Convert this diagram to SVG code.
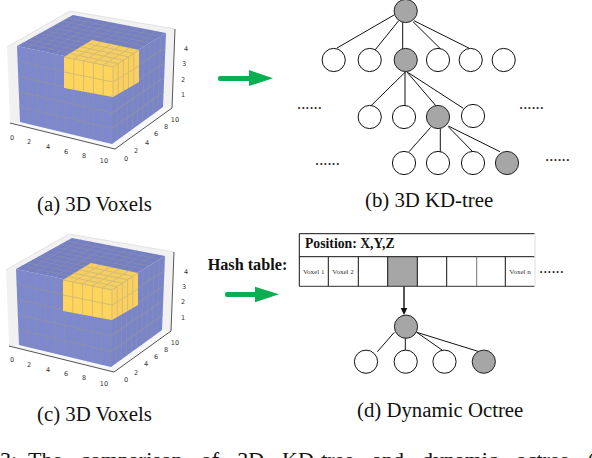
<svg xmlns="http://www.w3.org/2000/svg" xmlns:xlink="http://www.w3.org/1999/xlink" width="592" height="458" viewBox="0 0 592 458">
<style>
text{font-family:"Liberation Serif","Times New Roman",serif;fill:#111}
.cap{font-size:20.8px}
.tick{font-family:"DejaVu Sans",sans-serif;font-size:6.5px;text-anchor:middle;fill:#333}
.dots{font-size:16.5px;fill:#222}
.b{font-weight:bold}
.vx{font-size:7px;text-anchor:middle;fill:#333}
.w{fill:#fff;stroke:#111;stroke-width:1}
.g{fill:#a6a6a6;stroke:#222;stroke-width:1}
.e{stroke:#111;stroke-width:1;fill:none}
.bl{stroke:#8f90a8;stroke-width:1;fill:none;opacity:.6}
.hl{stroke:#8f90a8;stroke-width:1.1;fill:none;opacity:.85}
.yl{stroke:#d6bb72;stroke-width:1;fill:none}
.arw{fill:#0bae50}
.cell{stroke:#111;stroke-width:1;fill:none}
</style>
<defs>
<filter id="soft" x="-5%" y="-5%" width="110%" height="110%"><feGaussianBlur stdDeviation="0.45"/></filter>
<g id="voxels" filter="url(#soft)">
<polygon points="10,123 7,47 70,11 175,29 172,108 115,150" fill="#f1f1f1"/>
<polygon points="10,123 20,122 112,144 163,107 172,108 115,150" fill="#f8f8f8"/>
<path d="M7,47 L70,11 L175,29" fill="none" stroke="#e2e2e2" stroke-width="1"/>
<path d="M10,123 L115,149 L172,108 L175,29" fill="none" stroke="#555" stroke-width="1"/>
<polygon points="17,46 73,15 166,33 112,66" fill="#747fc4"/>
<polygon points="17,46 112,66 112,144 20,122" fill="#7d88cd"/>
<polygon points="112,66 166,33 163,107 112,144" fill="#7a85c9"/>
<path class="bl" d="M26.5,48L29.2,124.2M36,50L38.4,126.4M45.5,52L47.6,128.6M55,54L56.8,130.8M64.5,56L66,133M74,58L75.2,135.2M83.5,60L84.4,137.4M93,62L93.6,139.6M102.5,64L102.8,141.8M112,66L112,144"/>
<path class="bl" d="M117.4,62.7L117.1,140.3M122.8,59.4L122.2,136.6M128.2,56.1L127.3,132.9M133.6,52.8L132.4,129.2M139,49.5L137.5,125.5M144.4,46.2L142.6,121.8M149.8,42.9L147.7,118.1M155.2,39.6L152.8,114.4M160.6,36.3L157.9,110.7"/>
<path class="hl" d="M17.6,61.2L112,81.6L165.4,47.8M18.2,76.4L112,97.2L164.8,62.6M18.8,91.6L112,112.8L164.2,77.4M19.4,106.8L112,128.4L163.6,92.2"/>
<path class="bl" d="M22.6,42.9L117.4,62.7M28.2,39.8L122.8,59.4M33.8,36.7L128.2,56.1M39.4,33.6L133.6,52.8M45,30.5L139,49.5M50.6,27.4L144.4,46.2M56.2,24.3L149.8,42.9M61.8,21.2L155.2,39.6M67.4,18.1L160.6,36.3"/>
<path class="bl" d="M26.5,48L82.3,16.8M36,50L91.6,18.6M45.5,52L100.9,20.4M55,54L110.2,22.2M64.5,56L119.5,24M74,58L128.8,25.8M83.5,60L138.1,27.6M93,62L147.4,29.4M102.5,64L156.7,31.2"/>
<polygon points="64,57 92,40 139,50 113,67" fill="#f6cf63"/>
<polygon points="64,57 113,67 113,97 64,88" fill="#fdd45c"/>
<polygon points="113,67 139,50 139,82 113,97" fill="#f9d05e"/>
<path class="yl" d="M69.6,53.6L118.2,63.6M75.2,50.2L123.4,60.2M80.8,46.8L128.6,56.8M86.4,43.4L133.8,53.4M73.8,59L101.4,42M83.6,61L110.8,44M93.4,63L120.2,46M103.2,65L129.6,48M64,57L113,67L139,50"/>
<path class="yl" d="M73.8,59V89.8M83.6,61V91.6M93.4,63V93.4M103.2,65V95.2M113,67V97M118.2,63.6V94M123.4,60.2V91M128.6,56.8V88M133.8,53.4V85M64,72L113,82L139,66"/>
</g>
</defs>

<g id="voxels-a"><use href="#voxels" xlink:href="#voxels"/>
<text class="tick" x="12" y="140">0</text><text class="tick" x="29" y="144">2</text><text class="tick" x="48" y="149">4</text><text class="tick" x="66" y="154">6</text><text class="tick" x="84" y="158">8</text><text class="tick" x="104" y="163">10</text>
<text class="tick" x="126" y="161">0</text><text class="tick" x="136" y="153">2</text><text class="tick" x="147" y="145">4</text><text class="tick" x="156" y="136">6</text><text class="tick" x="166" y="129">8</text><text class="tick" x="175" y="122">10</text>
<text class="tick" x="186" y="51">4</text><text class="tick" x="184" y="66">3</text><text class="tick" x="183" y="82">2</text><text class="tick" x="183" y="97">1</text>
<text class="cap" x="37" y="211">(a) 3D Voxels</text></g>

<g id="voxels-c"><use href="#voxels" xlink:href="#voxels" transform="translate(-1,223)"/>
<text class="tick" x="12" y="362">0</text><text class="tick" x="29" y="367">2</text><text class="tick" x="48" y="372">4</text><text class="tick" x="66" y="376">6</text><text class="tick" x="84" y="380">8</text><text class="tick" x="104" y="386">10</text>
<text class="tick" x="126" y="382">0</text><text class="tick" x="136" y="375">2</text><text class="tick" x="146" y="366">4</text><text class="tick" x="156" y="359">6</text><text class="tick" x="166" y="352">8</text><text class="tick" x="175" y="345">10</text>
<text class="tick" x="186" y="274">4</text><text class="tick" x="184" y="289">3</text><text class="tick" x="183" y="304">2</text><text class="tick" x="183" y="320">1</text>
<text class="cap" x="37" y="421">(c) 3D Voxels</text></g>

<g id="connectors">
<g id="arrow-top"><rect class="arw" x="218" y="76" width="33" height="5" rx="2"/><polygon class="arw" points="249,70 273,78.3 249,86"/></g>
<g id="arrow-bottom"><rect class="arw" x="225" y="292" width="32" height="5" rx="2"/><polygon class="arw" points="255,286.7 279,294.3 255,302.3"/></g>
<path class="e" d="M394,15L337,48M398.7,20.7L375,50M402.7,21.7V49M413,21.7L440.7,49M414,20.7L469.3,48.3"/>
<path class="e" d="M405.7,71.7L370.7,106M405,71.7V106M406.7,71.7L436.7,106.7M408.3,72.7L463.3,108.3"/>
<path class="e" d="M430.7,127.3L409,151.7M440.3,128.3V152.3M448.3,126.7L473.3,152.3M448.3,126L500,151.7"/>
<path class="e" d="M394.3,332.3L377.4,351.7M405.3,338V350.5M416.7,332.3L442,350M416.7,332.3L479.2,351.7"/>
<path d="M404,286V309" stroke="#555" stroke-width="2" fill="none"/><polygon points="400.7,308 407.3,308 404,315" fill="#111"/>
</g>

<g id="node-root"><circle class="g" cx="405.7" cy="11" r="11.6"/></g>
<g id="level-2">
<circle class="w" cx="333.7" cy="60" r="11.6"/><circle class="w" cx="369.7" cy="60" r="11.6"/><circle class="g" cx="405.7" cy="60" r="11.6"/><circle class="w" cx="438" cy="60" r="11.6"/><circle class="w" cx="470.7" cy="60" r="11.6"/><circle class="w" cx="503.7" cy="60" r="11.6"/>
</g>
<g id="level-3">
<circle class="w" cx="369.7" cy="117" r="11.6"/><circle class="w" cx="404" cy="117" r="11.6"/><circle class="g" cx="438" cy="117" r="11.6"/><circle class="w" cx="473" cy="116" r="11.6"/>
</g>
<g id="level-4">
<circle class="w" cx="404" cy="163" r="11.6"/><circle class="w" cx="438" cy="163" r="11.6"/><circle class="w" cx="473" cy="163" r="11.6"/><circle class="g" cx="507" cy="163" r="11.6"/>
</g>
<g id="tree-labels">
<text class="dots" x="297" y="109">......</text><text class="dots" x="519" y="109">......</text><text class="dots" x="315" y="165">......</text><text class="dots" x="545" y="161">......</text>
<text class="cap" x="365" y="207">(b) 3D KD-tree</text>
</g>

<g id="hash-table">
<rect x="387.7" y="256.7" width="29.6" height="29.6" fill="#a6a6a6"/>
<path class="cell" d="M534.5,233.7H299.3V286.3M299.3,256.7H534.5M328.3,256.7V286.3M358.3,256.7V286.3M387.7,256.7V286.3M417.3,256.7V286.3M446.7,256.7V286.3M505.3,256.7V286.3"/>
<path d="M299.3,286.3H534.5" stroke="#333" fill="none"/>
<path d="M476.7,256.7V286.3" stroke="#777" fill="none"/>
<path d="M535,233.7V286.3" stroke="#ddd" fill="none"/>
<text class="b" x="305" y="248" font-size="13.7">Position: X,Y,Z</text>
<text class="vx" x="313.7" y="274">Voxel 1</text><text class="vx" x="343" y="274">Voxel 2</text><text class="vx" x="520" y="274">Voxel n</text>
<text class="dots" x="539" y="273">......</text>
<text class="b" x="207.7" y="270" font-size="16.2">Hash table:</text>
</g>

<g id="octree-root"><circle class="g" cx="406" cy="326.7" r="11.6"/></g>
<g id="octree-children">
<circle class="w" cx="366" cy="361.7" r="11.6"/><circle class="w" cx="405.7" cy="361.7" r="11.6"/><circle class="w" cx="444.5" cy="361.7" r="11.6"/><circle class="g" cx="483.8" cy="361.7" r="11.6"/>
</g>
<text class="cap" x="357" y="417">(d) Dynamic Octree</text>
<text x="0" y="467" font-size="22">3:<tspan x="28" word-spacing="12.5">The comparison of 3D KD-tree and dynamic octree (</tspan></text>
</svg>
